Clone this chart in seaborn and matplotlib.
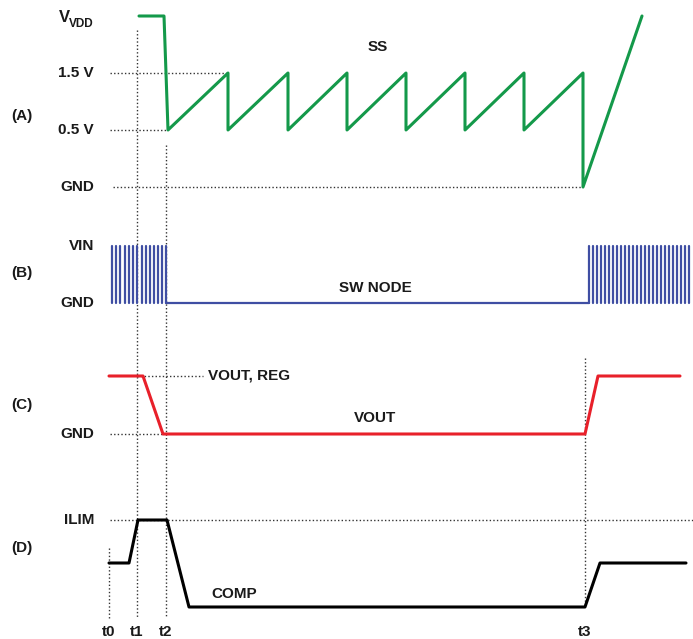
import matplotlib
matplotlib.use("Agg")
import matplotlib.pyplot as plt
import seaborn as sns
import pandas as pd

sns.set_style("white")
plt.rcParams['font.family'] = ['Liberation Sans', 'DejaVu Sans']

# ---- data (schematic coordinates) ----
time_labels = ['t0', 't1', 't2', 't3']
time_x = [109, 137, 166, 585]

# (A) SS ramp
ss_x = [139, 164, 168, 228, 228, 288, 288, 347, 347, 406, 406, 465, 465, 524, 524, 583, 583, 642]
ss_y = [16, 16, 130, 73, 130, 73, 130, 73, 130, 73, 130, 73, 130, 73, 130, 73, 187, 16]

# (B) SW node
sw_x = [166, 589]
sw_y = [303, 303]
pulse_left = [112, 116, 120, 125, 129, 133, 137, 142, 146, 150, 154, 158, 162, 166]
pulse_right = [589, 593, 597, 601, 605, 609, 613, 617, 621, 625, 629, 633, 637, 641,
               645, 649, 653, 657, 661, 665, 669, 673, 677, 681, 685, 689]
pulse_top, pulse_bot = 246, 303

# (C) VOUT
vout_x = [109, 143, 163, 585, 598, 680]
vout_y = [376, 376, 434, 434, 376, 376]

# (D) COMP
comp_x = [109, 129, 138, 167, 189, 585, 600, 686]
comp_y = [563, 563, 520, 520, 607, 607, 563, 563]

# level labels
level_labels = ['1.5 V', '0.5 V', 'GND', 'VIN', 'GND', 'GND', 'ILIM']
level_y = [73, 130, 187, 246, 303, 434, 520]
panel_labels = ['(A)', '(B)', '(C)', '(D)']
panel_y = [116, 273, 405, 548]

# dotted guides: (x0, x1, y)
h_guides = [(110, 228, 73), (110, 168, 130), (113, 583, 187), (137, 203, 376),
            (110, 163, 434), (110, 693, 520)]
# (x, y0, y1)
v_guides = [(137, 30, 618), (166, 145, 618), (585, 358, 607), (109, 548, 618)]

# ---- figure ----
fig = plt.figure(figsize=(6.93, 6.39), dpi=100)
ax = fig.add_axes([0, 0, 1, 1])
ax.set_xlim(0, 693)
ax.set_ylim(639, 0)
ax.axis('off')

dot = dict(color='#333333', lw=1.0, ls=(0, (1, 1.6)))
for x0, x1, y in h_guides:
    ax.plot([x0, x1], [y, y], **dot)
for x, y0, y1 in v_guides:
    ax.plot([x, x], [y0, y1], **dot)

green = '#14994a'
red = '#e8202a'
blue = '#3f4ea3'

sns.lineplot(x=ss_x, y=ss_y, sort=False, estimator=None, color=green, lw=2.2, ax=ax)
sns.lineplot(x=vout_x, y=vout_y, sort=False, estimator=None, color=red, lw=2.2, ax=ax)
sns.lineplot(x=comp_x, y=comp_y, sort=False, estimator=None, color='black', lw=2.2, ax=ax)
sns.lineplot(x=sw_x, y=sw_y, sort=False, estimator=None, color=blue, lw=1.6, ax=ax)

rows = []
for i, px in enumerate(pulse_left + pulse_right):
    rows.append(dict(x=px, y=pulse_top, u=i))
    rows.append(dict(x=px, y=pulse_bot, u=i))
pdf = pd.DataFrame(rows)
sns.lineplot(data=pdf, x='x', y='y', units='u', estimator=None, sort=False,
             color=blue, lw=1.6, ax=ax)

fs = 11
tk = dict(fontsize=fs, fontweight='bold', color='#1a1a1a')
for lab, y in zip(level_labels, level_y):
    ax.text(94, y, lab, ha='right', va='center', **tk)
ax.text(70, 17, 'V', ha='right', va='center', fontsize=12, fontweight='bold', color='#1a1a1a')
ax.text(69, 24, 'VDD', ha='left', va='center', fontsize=8.5, fontweight='bold', color='#1a1a1a')
for lab, y in zip(panel_labels, panel_y):
    ax.text(11, y, lab, ha='left', va='center', **tk)
for lab, x in zip(time_labels, time_x):
    ax.text(x, 632, lab, ha='center', va='center', **tk)

ax.text(378, 47, 'SS', ha='center', va='center', **tk)
ax.text(375, 288, 'SW NODE', ha='center', va='center', **tk)
ax.text(208, 376, 'VOUT, REG', ha='left', va='center', **tk)
ax.text(375, 418, 'VOUT', ha='center', va='center', **tk)
ax.text(211, 594, 'COMP', ha='left', va='center', **tk)

fig.savefig('out.png', dpi=100)
